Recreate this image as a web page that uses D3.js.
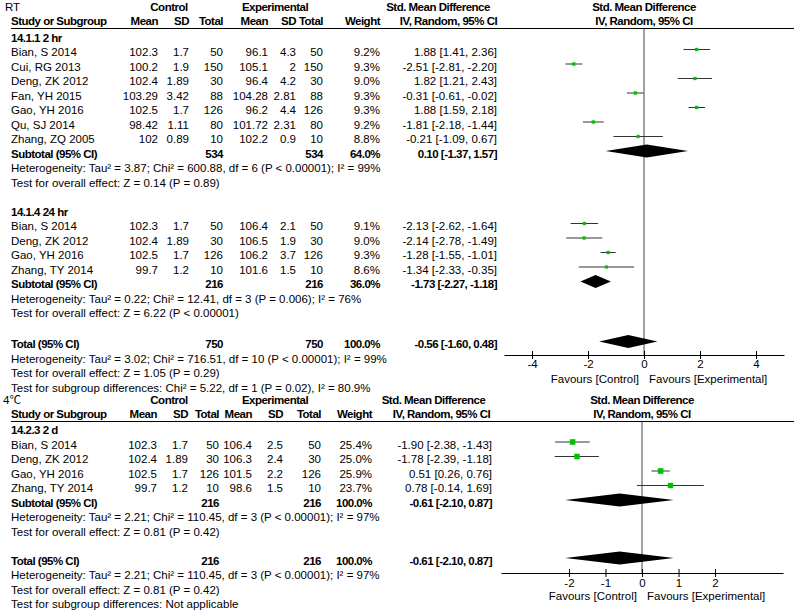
<!DOCTYPE html>
<html><head><meta charset="utf-8">
<script src="https://cdn.jsdelivr.net/npm/d3@7"></script>
<style>
html,body{margin:0;padding:0;background:#fff;}
svg text{font-family:'Liberation Sans',Arial,'Noto Sans CJK SC',sans-serif;fill:#000;}
</style></head>
<body><svg id="chart" width="794" height="611"></svg>
<script>
// ---------------- DATA ----------------
const panelTitles = ["RT", "4℃"];
const groupLabels = ["14.1.1 2 hr", "14.1.4 24 hr", "14.2.3 2 d"];

const rt2hStudies = [
  {study:"Bian, S 2014",   cMean:102.3,  cSD:1.7,  cN:50,  eMean:96.1,   eSD:4.3,  eN:50,  weight:9.2, smd:1.88,  lo:1.41,  hi:2.36},
  {study:"Cui, RG 2013",   cMean:100.2,  cSD:1.9,  cN:150, eMean:105.1,  eSD:2,    eN:150, weight:9.3, smd:-2.51, lo:-2.81, hi:-2.20},
  {study:"Deng, ZK 2012",  cMean:102.4,  cSD:1.89, cN:30,  eMean:96.4,   eSD:4.2,  eN:30,  weight:9.0, smd:1.82,  lo:1.21,  hi:2.43},
  {study:"Fan, YH 2015",   cMean:103.29, cSD:3.42, cN:88,  eMean:104.28, eSD:2.81, eN:88,  weight:9.3, smd:-0.31, lo:-0.61, hi:-0.02},
  {study:"Gao, YH 2016",   cMean:102.5,  cSD:1.7,  cN:126, eMean:96.2,   eSD:4.4,  eN:126, weight:9.3, smd:1.88,  lo:1.59,  hi:2.18},
  {study:"Qu, SJ 2014",    cMean:98.42,  cSD:1.11, cN:80,  eMean:101.72, eSD:2.31, eN:80,  weight:9.2, smd:-1.81, lo:-2.18, hi:-1.44},
  {study:"Zhang, ZQ 2005", cMean:102,    cSD:0.89, cN:10,  eMean:102.2,  eSD:0.9,  eN:10,  weight:8.8, smd:-0.21, lo:-1.09, hi:0.67}
];
const rt24hStudies = [
  {study:"Bian, S 2014",   cMean:102.3, cSD:1.7,  cN:50,  eMean:106.4, eSD:2.1, eN:50,  weight:9.1, smd:-2.13, lo:-2.62, hi:-1.64},
  {study:"Deng, ZK 2012",  cMean:102.4, cSD:1.89, cN:30,  eMean:106.5, eSD:1.9, eN:30,  weight:9.0, smd:-2.14, lo:-2.78, hi:-1.49},
  {study:"Gao, YH 2016",   cMean:102.5, cSD:1.7,  cN:126, eMean:106.2, eSD:3.7, eN:126, weight:9.3, smd:-1.28, lo:-1.55, hi:-1.01},
  {study:"Zhang, TY 2014", cMean:99.7,  cSD:1.2,  cN:10,  eMean:101.6, eSD:1.5, eN:10,  weight:8.6, smd:-1.34, lo:-2.33, hi:-0.35}
];
const c4dStudies = [
  {study:"Bian, S 2014",   cMean:102.3, cSD:1.7,  cN:50,  eMean:106.4, eSD:2.5, eN:50,  weight:25.4, smd:-1.90, lo:-2.38, hi:-1.43},
  {study:"Deng, ZK 2012",  cMean:102.4, cSD:1.89, cN:30,  eMean:106.3, eSD:2.4, eN:30,  weight:25.0, smd:-1.78, lo:-2.39, hi:-1.18},
  {study:"Gao, YH 2016",   cMean:102.5, cSD:1.7,  cN:126, eMean:101.5, eSD:2.2, eN:126, weight:25.9, smd:0.51,  lo:0.26,  hi:0.76},
  {study:"Zhang, TY 2014", cMean:99.7,  cSD:1.2,  cN:10,  eMean:98.6,  eSD:1.5, eN:10,  weight:23.7, smd:0.78,  lo:-0.14, hi:1.69}
];
// pooled results: [label, cN, eN, weight, smd, lo, hi]
const rtPooled = [
  ["Subtotal (95% CI)", 534, 534, 64.0, 0.10, -1.37, 1.57],
  ["Subtotal (95% CI)", 216, 216, 36.0, -1.73, -2.27, -1.18],
  ["Total (95% CI)", 750, 750, 100.0, -0.56, -1.60, 0.48]
];
const c4Pooled = [
  ["Subtotal (95% CI)", 216, 216, 100.0, -0.61, -2.10, 0.87],
  ["Total (95% CI)", 216, 216, 100.0, -0.61, -2.10, 0.87]
];
const rtStats = [
  "Heterogeneity: Tau² = 3.87; Chi² = 600.88, df = 6 (P < 0.00001); I² = 99%",
  "Test for overall effect: Z = 0.14 (P = 0.89)",
  "Heterogeneity: Tau² = 0.22; Chi² = 12.41, df = 3 (P = 0.006); I² = 76%",
  "Test for overall effect: Z = 6.22 (P < 0.00001)",
  "Heterogeneity: Tau² = 3.02; Chi² = 716.51, df = 10 (P < 0.00001); I² = 99%",
  "Test for overall effect: Z = 1.05 (P = 0.29)",
  "Test for subgroup differences: Chi² = 5.22, df = 1 (P = 0.02), I² = 80.9%"
];
const c4Stats = [
  "Heterogeneity: Tau² = 2.21; Chi² = 110.45, df = 3 (P < 0.00001); I² = 97%",
  "Test for overall effect: Z = 0.81 (P = 0.42)",
  "Heterogeneity: Tau² = 2.21; Chi² = 110.45, df = 3 (P < 0.00001); I² = 97%",
  "Test for overall effect: Z = 0.81 (P = 0.42)",
  "Test for subgroup differences: Not applicable"
];
const rtTicks = [-4, -2, 0, 2, 4];
const c4Ticks = [-2, -1, 0, 1, 2];
const rtLimits = [-5, 5];
const c4Limits = [-3.86, 3.86];
const colHeads = ["Mean", "SD", "Total", "Mean", "SD", "Total", "Weight"];
const favours = ["Favours [Control]", "Favours [Experimental]"];

// ---------------- LAYOUT ----------------
const svg = d3.select("#chart");
const FS = 11.5;
function txt(g, x, y, s, anchor, bold, size) {
  const t = g.append("text").attr("x", x).attr("y", y).text(s)
    .attr("text-anchor", anchor || "start")
    .style("font-size", (size || FS) + "px");
  if (bold) t.style("font-weight", "bold").style("letter-spacing", "-0.5px");
  return t;
}
const ci = (d) => d[0].toFixed(2) + " [" + d[1].toFixed(2) + ", " + d[2].toFixed(2) + "]";

function drawPanel(cfg) {
  const g = svg.append("g");
  const x = d3.scaleLinear().domain(cfg.limits).range(cfg.range);
  const cols = cfg.cols; // right edges
  // headers
  txt(g, cfg.titleX, cfg.h1, cfg.title, "start", false, 11.5);
  txt(g, 169, cfg.h1, "Control", "middle", true);
  txt(g, 275, cfg.h1, "Experimental", "middle", true);
  txt(g, cfg.ciHead[0], cfg.h1, "Std. Mean Difference", "middle", true);
  txt(g, x(0), cfg.h1, "Std. Mean Difference", "middle", true);
  txt(g, 11, cfg.h2, "Study or Subgroup", "start", true);
  colHeads.forEach((h, i) => txt(g, cols[i], cfg.h2, h, "end", true));
  txt(g, cfg.ciHead[1], cfg.h2, "IV, Random, 95% CI", "middle", true);
  txt(g, x(0), cfg.h2, "IV, Random, 95% CI", "middle", true);
  g.append("line").attr("x1", 11).attr("x2", 794).attr("y1", cfg.ul).attr("y2", cfg.ul)
    .attr("stroke", "#000").attr("stroke-width", 1);

  const ry = (i) => cfg.y0 + cfg.step * i + (i >= cfg.extraFrom ? cfg.extra : 0);
  const markY = (i) => ry(i) - 6.5;

  // zero line
  g.append("line").attr("x1", x(0)).attr("x2", x(0)).attr("y1", cfg.ul).attr("y2", cfg.axisY)
    .attr("stroke", "#444").attr("stroke-width", 1);

  cfg.rows.forEach((r, i) => {
    const y = ry(i);
    if (r.type === "group") txt(g, 11, y, r.label, "start", true);
    else if (r.type === "text") txt(g, 11, y, r.label, "start", false);
    else if (r.type === "study") {
      const d = r.d;
      txt(g, 11, y, d.study, "start", false);
      [d.cMean, d.cSD, d.cN, d.eMean, d.eSD, d.eN].forEach((v, k) => txt(g, cols[k], y, String(v), "end", false));
      txt(g, cols[6], y, d.weight.toFixed(1) + "%", "end", false);
      txt(g, cols[7], y, ci([d.smd, d.lo, d.hi]), "end", false);
      const my = markY(i);
      g.append("line").attr("x1", x(d.lo)).attr("x2", x(d.hi)).attr("y1", my).attr("y2", my)
        .attr("stroke", "#333").attr("stroke-width", 1);
      const s = cfg.sq * Math.sqrt(d.weight);
      g.append("rect").attr("x", x(d.smd) - s / 2).attr("y", my - s / 2).attr("width", s).attr("height", s)
        .attr("fill", "#00c000");
    } else if (r.type === "pooled") {
      const p = r.p;
      txt(g, 11, y, p[0], "start", true);
      txt(g, cols[2], y, String(p[1]), "end", true);
      txt(g, cols[5], y, String(p[2]), "end", true);
      txt(g, cols[6], y, p[3].toFixed(1) + "%", "end", true);
      txt(g, cols[7], y, ci([p[4], p[5], p[6]]), "end", true);
      const my = markY(i);
      const pts = [[x(p[5]), my], [x(p[4]), my - 6.5], [x(p[6]), my], [x(p[4]), my + 6.5]];
      g.append("path").attr("d", d3.line()(pts) + "Z").attr("fill", "#000");
    }
  });

  // axis
  const axis = d3.axisBottom(x).tickValues(cfg.ticks).tickFormat(d => String(d))
    .tickSizeInner(4).tickSizeOuter(0).tickPadding(5);
  const ag = g.append("g").attr("transform", "translate(0," + cfg.axisY + ")").call(axis);
  ag.select(".domain").attr("stroke", "#000");
  ag.selectAll(".tick line").attr("y1", -4).attr("y2", 4).attr("stroke", "#000");
  ag.selectAll(".tick text").style("font-size", "11.5px").attr("fill", "#000")
    .style("font-family", "'Liberation Sans',Arial,sans-serif").attr("y", cfg.tickLabY - cfg.axisY).attr("dy", 0);
  ag.attr("font-family", null);
  txt(g, x(0) - 5, cfg.favY, favours[0], "end", false);
  txt(g, x(0) + 5, cfg.favY, favours[1], "start", false);
}

function buildRows(groups, pooledSubs, stats, pooledTotal, totalStats) {
  const rows = [];
  groups.forEach((gr, k) => {
    rows.push({type: "group", label: gr.label});
    gr.studies.forEach(d => rows.push({type: "study", d}));
    rows.push({type: "pooled", p: pooledSubs[k]});
    rows.push({type: "text", label: stats[2 * k]});
    rows.push({type: "text", label: stats[2 * k + 1]});
    rows.push({type: "blank"});
  });
  rows.push({type: "pooled", p: pooledTotal});
  totalStats.forEach(s => rows.push({type: "text", label: s}));
  return rows;
}

drawPanel({
  title: panelTitles[0], titleX: 5, h1: 10.5, h2: 25, ul: 28.5,
  cols: [158, 189, 223, 268, 296, 323, 380, 497], ciHead: [438, 448.5],
  limits: rtLimits, range: [504, 784], ticks: rtTicks,
  y0: 41.5, step: 14.5, extraFrom: 21, extra: 2, sq: 1.1,
  axisY: 355, tickLabY: 368, favY: 383,
  rows: buildRows(
    [{label: groupLabels[0], studies: rt2hStudies}, {label: groupLabels[1], studies: rt24hStudies}],
    rtPooled, rtStats, rtPooled[2], rtStats.slice(4))
});
drawPanel({
  title: panelTitles[1], titleX: 3, h1: 404, h2: 417.5, ul: 421.5,
  cols: [157, 188, 219, 252, 283, 321, 372, 492], ciHead: [433.5, 441.5],
  limits: c4Limits, range: [501, 783], ticks: c4Ticks,
  y0: 434, step: 14.5, extraFrom: 99, extra: 0, sq: 1.1,
  axisY: 573, tickLabY: 587, favY: 600,
  rows: buildRows(
    [{label: groupLabels[2], studies: c4dStudies}],
    c4Pooled, c4Stats, c4Pooled[1], c4Stats.slice(2))
});
</script></body></html>
